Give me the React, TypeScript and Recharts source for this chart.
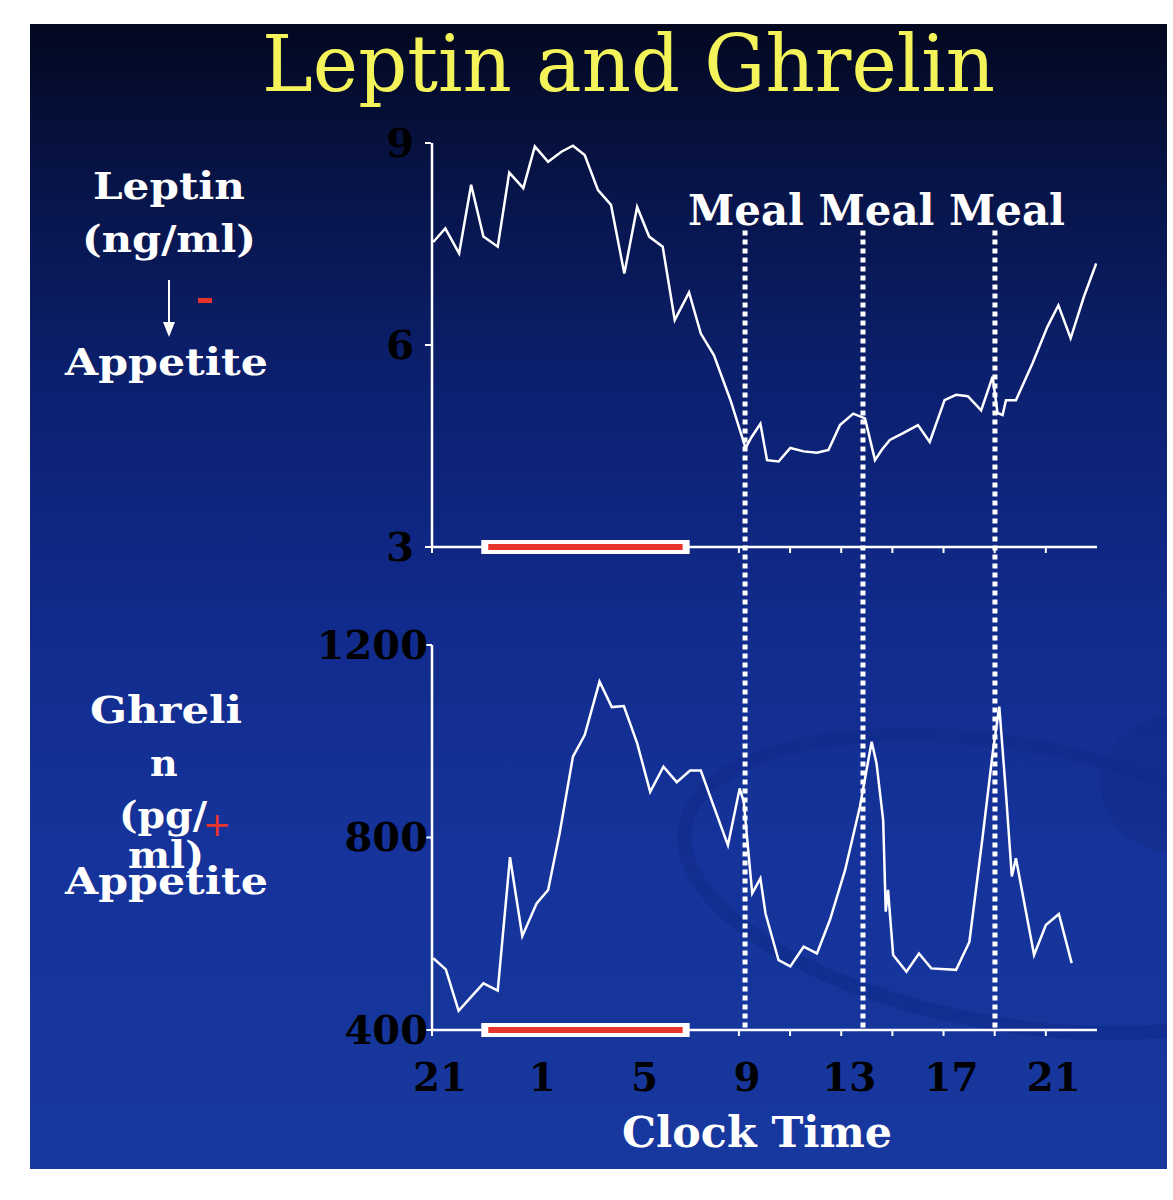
import { ComposedChart, Line, XAxis, YAxis, ReferenceLine } from "recharts";

// clock hours, after midnight counted as 24+
const leptinHours = [
  21.05, 21.52, 22.06, 22.53, 23.01, 23.57, 24.02, 24.57, 25.02, 25.54, 26.06, 26.51, 26.97, 27.49,
  28.0, 28.52, 29.02, 29.49, 30.02, 30.49, 31.05, 31.51, 32.02, 32.67, 33.26, 33.49, 33.84, 34.1,
  34.55, 35.01, 35.53, 36.05, 36.5, 36.95, 37.47, 37.93, 38.32, 38.58, 38.9, 39.42, 40.0, 40.46,
  41.04, 41.49, 41.95, 42.47, 42.92, 43.11, 43.31, 43.44, 43.83, 44.48, 45.06, 45.49, 45.97, 46.49,
  46.97,
];
const leptinValues = [
  7.53, 7.73, 7.36, 8.38, 7.61, 7.46, 8.56, 8.33, 8.95, 8.72, 8.87, 8.96, 8.82, 8.3,
  8.08, 7.06, 8.05, 7.61, 7.46, 6.37, 6.78, 6.17, 5.85, 5.18, 4.47, 4.63, 4.83, 4.29,
  4.27, 4.47, 4.42, 4.4, 4.44, 4.81, 4.98, 4.91, 4.29, 4.44, 4.59, 4.69, 4.81, 4.56,
  5.18, 5.26, 5.24, 5.03, 5.53, 4.99, 4.96, 5.18, 5.18, 5.73, 6.27, 6.59, 6.1, 6.72,
  7.21,
];

const ghrelinHours = [
  21.05, 21.54, 22.04, 22.53, 23.01, 23.57, 24.05, 24.53, 25.09, 25.54, 25.99, 26.51, 26.97, 27.55,
  28.03, 28.5, 29.02, 29.53, 30.05, 30.57, 31.09, 31.51, 32.02, 32.57, 33.03, 33.19, 33.52, 33.84,
  34.04, 34.55, 35.01, 35.53, 36.05, 36.56, 37.15, 37.73, 38.19, 38.38, 38.64, 38.74, 38.83, 39.03,
  39.55, 40.04, 40.52, 41.49, 42.01, 42.53, 42.92, 43.18, 43.44, 43.67, 43.83, 44.54, 45.0, 45.51,
  46.01,
];
const ghrelinValues = [
  549, 526, 440, 469, 497, 482, 759, 595, 663, 691, 809, 968, 1013, 1124,
  1071, 1073, 996, 895, 947, 915, 939, 939, 864, 784, 902, 874, 684, 715,
  642, 545, 532, 573, 559, 629, 732, 864, 999, 954, 836, 646, 691, 556,
  521, 559, 528, 525, 583, 802, 975, 1072, 892, 719, 757, 556, 618, 641,
  539,
];

const mealHours = [33.24, 37.85, 43.01];
const sleepHours = [23.2, 30.8];
const hourTicks = [21, 23, 25, 27, 29, 31, 33, 35, 37, 39, 41, 43, 45];
const labelEvery = 4;
const leptinTicks = [3, 6, 9];
const ghrelinTicks = [400, 800, 1200];
// each panel's own axis range; the shared plot area stretches the domains
const leptinDomain = [-4.174, 9];
const ghrelinDomain = [400, 2243];
const mealLineTop = 7.7;

const leptinData = leptinHours.map((h, i) => ({ h, v: leptinValues[i] }));
const ghrelinData = ghrelinHours.map((h, i) => ({ h, v: ghrelinValues[i] }));

const SERIF = "'DejaVu Serif', serif";
const tickLenLeptin = 6 / 67.33;
const tickLenGhrelin = 6 / 0.48125;

function LeptinTick({ x, y, payload }: any) {
  return (
    <text x={x - 11} y={y + 14} textAnchor="end" fontFamily={SERIF} fontWeight="bold" fontSize={40} fill="#000">
      {payload.value}
    </text>
  );
}

function GhrelinTick({ x, y, payload }: any) {
  return (
    <text x={x + 2} y={y + 14} textAnchor="end" fontFamily={SERIF} fontWeight="bold" fontSize={40} fill="#000">
      {payload.value}
    </text>
  );
}

function HourTick({ x, y, payload }: any) {
  if ((payload.value - 21) % labelEvery !== 0) return <g />;
  const label = String(payload.value % 24);
  return (
    <text
      x={x + 8}
      y={y + 55}
      textAnchor="middle"
      fontFamily={SERIF}
      fontWeight="bold"
      fontSize={40}
      fill="#000"
      textLength={label.length * 27}
      lengthAdjust="spacingAndGlyphs"
    >
      {label}
    </text>
  );
}

const whiteText = { fontFamily: SERIF, fontWeight: "bold" as const, fill: "#fff" };

export default function App() {
  return (
    <div style={{ position: "absolute", left: 0, top: 0, width: 1173, height: 1200, background: "#fff", overflow: "hidden" }}>
      <div
        style={{
          position: "absolute",
          left: 30,
          top: 24,
          width: 1137,
          height: 1145,
          overflow: "hidden",
          background: "linear-gradient(to bottom, #030820 0%, #071448 14%, #0c2070 32%, #112b8c 52%, #15339a 72%, #17389e 100%)",
        }}
      >
        <svg width={1137} height={1145} style={{ position: "absolute", left: 0, top: 0 }}>
          <ellipse cx={980} cy={860} rx={330} ry={140} transform="rotate(10 980 860)" fill="none" stroke="#0f2a88" strokeWidth={14} opacity={0.55} />
          <ellipse cx={1150} cy={760} rx={80} ry={70} fill="#0f2a88" opacity={0.45} />
        </svg>
      </div>
      <div style={{ position: "absolute", left: 0, top: 0 }}>
        <ComposedChart width={1173} height={1200} margin={{ top: 143, right: 76, bottom: 140, left: 430 }}>
          <XAxis
            dataKey="h"
            type="number"
            domain={[21, 47]}
            ticks={hourTicks}
            allowDataOverflow
            height={30}
            tickSize={6}
            tickMargin={0}
            axisLine={false}
            tickLine={false}
            tick={<HourTick />}
          />
          <YAxis
            yAxisId="lep"
            type="number"
            domain={leptinDomain}
            ticks={leptinTicks}
            allowDataOverflow
            width={1}
            axisLine={false}
            tickSize={6}
            tickMargin={0}
            tickLine={{ stroke: "#fff", strokeWidth: 2 }}
            tick={<LeptinTick />}
          />
          <YAxis
            yAxisId="ghr"
            type="number"
            domain={ghrelinDomain}
            ticks={ghrelinTicks}
            allowDataOverflow
            width={1}
            axisLine={false}
            tickSize={6}
            tickMargin={0}
            tickLine={{ stroke: "#fff", strokeWidth: 2 }}
            tick={<GhrelinTick />}
          />

          {/* panel axes */}
          <ReferenceLine yAxisId="lep" ifOverflow="visible" segment={[{ x: 21, y: 3 }, { x: 21, y: 9 }]} stroke="#fff" strokeWidth={2.5} />
          <ReferenceLine yAxisId="lep" ifOverflow="visible" segment={[{ x: 21, y: 3 }, { x: 47, y: 3 }]} stroke="#fff" strokeWidth={2.5} />
          <ReferenceLine yAxisId="ghr" ifOverflow="visible" segment={[{ x: 21, y: 400 }, { x: 21, y: 1200 }]} stroke="#fff" strokeWidth={2.5} />
          <ReferenceLine yAxisId="ghr" ifOverflow="visible" segment={[{ x: 21, y: 400 }, { x: 47, y: 400 }]} stroke="#fff" strokeWidth={2.5} />
          {hourTicks.map((h) => (
            <ReferenceLine
              key={`lt${h}`}
              yAxisId="lep"
              ifOverflow="visible"
              segment={[{ x: h, y: 3 }, { x: h, y: 3 - tickLenLeptin }]}
              stroke="#fff"
              strokeWidth={2}
            />
          ))}
          {hourTicks.map((h) => (
            <ReferenceLine
              key={`gt${h}`}
              yAxisId="ghr"
              ifOverflow="visible"
              segment={[{ x: h, y: 400 }, { x: h, y: 400 - tickLenGhrelin }]}
              stroke="#fff"
              strokeWidth={2}
            />
          ))}

          {/* meals */}
          {mealHours.map((m) => (
            <ReferenceLine
              key={`m${m}`}
              yAxisId="lep"
              ifOverflow="visible"
              segment={[{ x: m, y: mealLineTop }, { x: m, y: leptinDomain[0] }]}
              stroke="#fff"
              strokeWidth={5}
              strokeDasharray="5 4"
            />
          ))}

          {/* sleep bars */}
          <ReferenceLine yAxisId="lep" ifOverflow="visible" segment={[{ x: sleepHours[0], y: 3 }, { x: sleepHours[1], y: 3 }]} stroke="#fff" strokeWidth={14} strokeLinecap="square" />
          <ReferenceLine yAxisId="lep" ifOverflow="visible" segment={[{ x: sleepHours[0], y: 3 }, { x: sleepHours[1], y: 3 }]} stroke="#e8352b" strokeWidth={6} />
          <ReferenceLine yAxisId="ghr" ifOverflow="visible" segment={[{ x: sleepHours[0], y: 400 }, { x: sleepHours[1], y: 400 }]} stroke="#fff" strokeWidth={14} strokeLinecap="square" />
          <ReferenceLine yAxisId="ghr" ifOverflow="visible" segment={[{ x: sleepHours[0], y: 400 }, { x: sleepHours[1], y: 400 }]} stroke="#e8352b" strokeWidth={6} />

          <Line yAxisId="lep" data={leptinData} dataKey="v" type="linear" stroke="#fff" strokeWidth={2.5} dot={false} isAnimationActive={false} />
          <Line yAxisId="ghr" data={ghrelinData} dataKey="v" type="linear" stroke="#fff" strokeWidth={2.5} dot={false} isAnimationActive={false} />
        </ComposedChart>
      </div>
      <svg width={1173} height={1200} style={{ position: "absolute", left: 0, top: 0, pointerEvents: "none" }}>
        <text x={262} y={91} fontFamily={SERIF} fontSize={78} fill="#f4f45a" textLength={733} lengthAdjust="spacingAndGlyphs">
          Leptin and Ghrelin
        </text>
        <text x={688} y={225} fontSize={42} textLength={377} lengthAdjust="spacingAndGlyphs" {...whiteText}>
          Meal Meal Meal
        </text>

        <text x={93} y={199} fontSize={38} textLength={152} lengthAdjust="spacingAndGlyphs" {...whiteText}>Leptin</text>
        <text x={82} y={252} fontSize={38} textLength={174} lengthAdjust="spacingAndGlyphs" {...whiteText}>(ng/ml)</text>
        <line x1={169} y1={280} x2={169} y2={330} stroke="#fff" strokeWidth={2} />
        <path d="M163,322 L169,337 L175,322 Z" fill="#fff" />
        <rect x={198} y={298} width={14} height={5} fill="#e8352b" />
        <text x={65} y={375} fontSize={38} textLength={203} lengthAdjust="spacingAndGlyphs" {...whiteText}>Appetite</text>

        <text x={90} y={723} fontSize={38} textLength={152} lengthAdjust="spacingAndGlyphs" {...whiteText}>Ghreli</text>
        <text x={150} y={776} fontSize={38} {...whiteText}>n</text>
        <text x={119} y={828} fontSize={38} textLength={88} lengthAdjust="spacingAndGlyphs" {...whiteText}>(pg/</text>
        <text x={128} y={868} fontSize={38} textLength={76} lengthAdjust="spacingAndGlyphs" {...whiteText}>ml)</text>
        <text x={65} y={894} fontSize={38} textLength={203} lengthAdjust="spacingAndGlyphs" {...whiteText}>Appetite</text>
        <text x={217} y={836} fontSize={34} fill="#e8352b" textAnchor="middle" fontFamily={SERIF}>+</text>

        <text x={622} y={1147} fontSize={42} textLength={270} lengthAdjust="spacingAndGlyphs" {...whiteText}>Clock Time</text>
      </svg>
    </div>
  );
}
